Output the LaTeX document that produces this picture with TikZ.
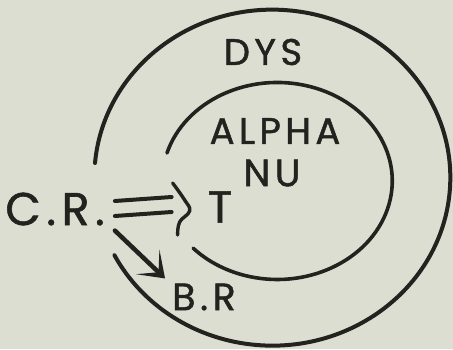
\documentclass[tikz,border=0pt]{standalone}
\usepackage{fontspec}
\newfontfamily\lblfont{Poppins}[LetterSpace=12,FakeBold=1.2]
\usetikzlibrary{arrows.meta,calc}
\definecolor{paper}{RGB}{221,222,210}
\definecolor{ink}{RGB}{34,34,30}
\begin{document}
\begin{tikzpicture}[x=1pt,y=-1pt,
  lbl/.style={inner sep=0pt,text=ink,font=\lblfont\fontsize{#1}{#1}\selectfont},
  lbl/.default=36,
  ring/.style={draw=ink,line width=4pt,line cap=round,line join=round},
  conn/.style={draw=ink,line width=4pt,line cap=round}]
\fill[paper] (0,0) rectangle (453,349);
\useasboundingbox (0,0) rectangle (453,349);
% rings
\draw[ring] (95,163) arc[start angle=185,end angle=512.5,x radius=178,y radius=168];
\draw[ring,line width=3.6pt] (167,153) arc[start angle=196.5,end angle=497,x radius=115,y radius=98.5];
% labels
\node[lbl=46] (cr) at (55,209) {C.R.};
\node[lbl=45] (t) at (220,207) {T};
\node[lbl=38] (br) at (204,297) {B.R};
\node[lbl=37] (dys) at (263,52) {DYS};
\node[lbl=37] (alpha) at (275,131) {ALPHA};
\node[lbl=38] (nu) at (272,173) {NU};
% double arrow C.R. => T
\coordinate (d1) at ($(cr.east)+(10,0)$);
\coordinate (d2) at ($(t.west)+(-36,-2)$);
\draw[conn] ($(d1)+(0,-8)$) -- ($(d2)+(0,-8)$);
\draw[conn] ($(d1)+(0,7)$) -- ($(d2)+(0,7)$);
\draw[conn,line width=3.4pt] plot[smooth,tension=0.7] coordinates {($(t.west)+(-35,-24)$) ($(t.west)+(-23,-7)$) ($(t.west)+(-18,4)$) ($(t.west)+(-28,15)$) ($(t.west)+(-30,28)$)};
% arrow C.R. -> B.R
\draw[conn,line width=4.5pt,-{Stealth[length=24pt,width=34pt,inset=15pt]}] ($(cr.south east)+(10,5)$) -- ($(br.north west)+(-7,-5)$);
\end{tikzpicture}
\end{document}
